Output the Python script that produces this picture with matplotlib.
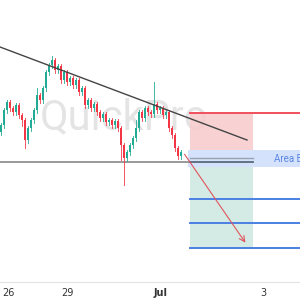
import matplotlib
matplotlib.use("Agg")
import matplotlib.pyplot as plt
from matplotlib.patches import Rectangle

# chart in screen-ish units: x = bar position, price = 300 - pixel row
bar_x = [1, 4, 7, 10, 13, 16, 19, 22, 25, 28, 31, 34, 37, 40, 43, 46, 49, 52, 55, 58,
         61, 64, 67, 70, 73, 76, 79, 82, 85, 88, 91, 94, 97, 100, 103, 106, 109, 112, 115, 118,
         121, 124, 127, 130, 133, 136, 139, 142, 145, 148, 151, 154, 157, 160, 163, 166, 169, 172, 175, 178, 181]
closes_px = [125, 110, 102, 108, 112, 105, 115, 120, 140, 128, 120, 110, 95, 100, 88, 72, 65, 60, 70, 66,
             80, 72, 82, 78, 85, 80, 92, 88, 105, 100, 108, 104, 112, 118, 114, 122, 120, 125, 121, 128,
             145, 158, 152, 145, 138, 128, 112, 118, 108, 112, 114, 104, 110, 108, 115, 112, 128, 135, 148, 156, 152]
first_open_px = 132
wick_hi = {17: 56, 51: 82, 12: 88, 45: 120}
wick_lo = {8: 148, 41: 185, 40: 160, 7: 126}

closes = [300 - c for c in closes_px]
opens = [300 - first_open_px] + closes[:-1]

trend_start = (0, 300 - 47)
trend_end = (247, 300 - 140)
support = 300 - 162

red_box = (190, 253, 300 - 150, 300 - 113)
blue_band = (188, 300, 300 - 167, 300 - 150)
green_box = (190, 253, 300 - 248, 300 - 167)
target_levels = [300 - 199, 300 - 223, 300 - 248]
arrow_from = (183, 300 - 152)
arrow_to = (247, 300 - 245)

tick_pos = [8, 67, 161, 263]
tick_lbl = ["26", "29", "Jul", "3"]

up_col = "#22ab94"
dn_col = "#f23645"

fig = plt.figure(figsize=(3, 3), dpi=100)
ax = fig.add_axes([0, 18 / 300, 1, 282 / 300])
ax.set_xlim(0, 300)
ax.set_ylim(18, 300)

ax.text(124, 300 - 118, "QuickPro", fontsize=30, family="Roboto", color="#e4e4e4",
        ha="center", va="center", zorder=0)

# boxes
ax.add_patch(Rectangle((red_box[0], red_box[2]), red_box[1] - red_box[0], red_box[3] - red_box[2],
                       color="#f7c9cc", alpha=0.85, lw=0, zorder=1))
ax.add_patch(Rectangle((green_box[0], green_box[2]), green_box[1] - green_box[0], green_box[3] - green_box[2],
                       color="#cfe9e1", alpha=0.9, lw=0, zorder=1))
ax.add_patch(Rectangle((blue_band[0], blue_band[2]), blue_band[1] - blue_band[0], blue_band[3] - blue_band[2],
                       color="#b9cffa", alpha=0.6, lw=0, zorder=2))
ax.plot([red_box[0], 300], [red_box[3], red_box[3]], color="#f0505c", lw=1.4, zorder=3)
for lv in target_levels:
    ax.plot([green_box[0], 300], [lv, lv], color="#4a7fe3", lw=1.4, zorder=3)
ax.text(274, 300 - 159, "Area B", fontsize=7, family="Roboto", color="#5b86e5",
        va="center", ha="left", clip_on=True, zorder=4)

# support line and line inside box
ax.plot([0, 190], [support, support], color="#888888", lw=1.2, zorder=3)
ax.plot([190, 253], [300 - 158, 300 - 158], color="#9aa3b0", lw=1.0, zorder=3)
ax.plot([190, 253], [300 - 161.5, 300 - 161.5], color="#5a6a7a", lw=1.3, zorder=3)

# candles
for i, x in enumerate(bar_x):
    o, c = opens[i], closes[i]
    col = up_col if c >= o else dn_col
    hi = max(o, c) + 2.5
    lo = min(o, c) - 2.5
    if i in wick_hi:
        hi = 300 - wick_hi[i]
    if i in wick_lo:
        lo = 300 - wick_lo[i]
    ax.plot([x, x], [lo, hi], color=col, lw=0.7, alpha=0.85, zorder=5)
    ax.add_patch(Rectangle((x - 1.25, min(o, c)), 2.5, max(abs(c - o), 1.0), color=col, lw=0, zorder=5))

# trendline
ax.plot([trend_start[0], trend_end[0]], [trend_start[1], trend_end[1]], color="#444444", lw=1.0, zorder=6)

# projected move
ax.annotate("", xy=arrow_to, xytext=arrow_from,
            arrowprops=dict(arrowstyle="->", color="#e0555f", lw=0.8), zorder=6)

for s in ["top", "left", "right"]:
    ax.spines[s].set_visible(False)
ax.spines["bottom"].set_color("#e4e4e4")
ax.set_yticks([])
ax.set_xticks(tick_pos)
ax.set_xticklabels(tick_lbl, fontsize=7, color="#333333")
ax.get_xticklabels()[2].set_fontweight("bold")
ax.tick_params(axis="x", length=0, pad=4)

fig.savefig("out.png", dpi=100)
